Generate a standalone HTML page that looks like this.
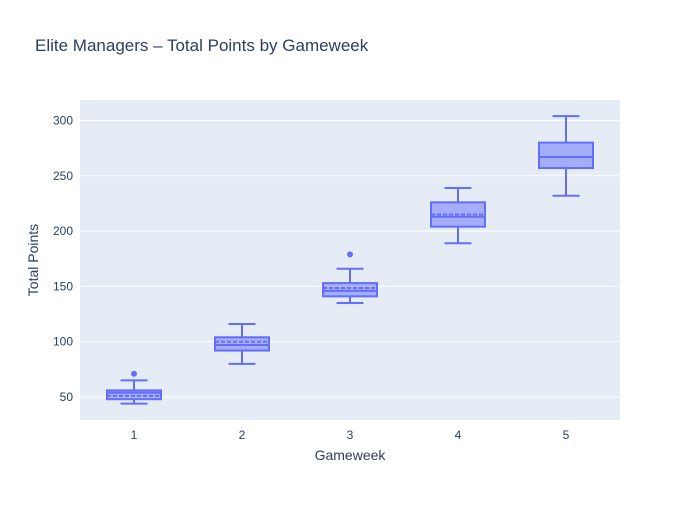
<!DOCTYPE html>
<html><head><meta charset="utf-8"><style>
body{margin:0;background:#fff;font-family:"Liberation Sans",Arial,sans-serif}
svg text{font-family:"Liberation Sans",Arial,sans-serif}
</style></head><body>
<svg id="c" width="700" height="500">
<rect x="0" y="0" width="700" height="500" fill="#fff"/>
<text x="35" y="51" font-size="17" fill="#2a3f5f">Elite Managers – Total Points by Gameweek</text>
<rect x="80" y="100" width="540" height="320" fill="#e5ecf6"/>
<g id="grid"></g><g id="marks"></g>
<text x="350" y="460" font-size="14" fill="#2a3f5f" text-anchor="middle">Gameweek</text>
<text transform="translate(38,260) rotate(-90)" font-size="14" fill="#2a3f5f" text-anchor="middle">Total Points</text>
</svg>
<script>
const categories=["1","2","3","4","5"];
const whiskerLow=[44,80,135,189,232];
const q1=[48,92,141,204,257];
const medians=[54,97,146,213,267];
const means=[51,100,148.5,215,267];
const q3=[56,104,153,226,280];
const whiskerHigh=[65,116,166,239,304];
const outliers=[[71],[],[179],[],[]];
const yTicks=[50,100,150,200,250,300];
const NS="http://www.w3.org/2000/svg";
const y=v=>397-(v-50)*1.106;
const x=i=>80+540*(i+0.5)/categories.length;
const bw=54;
function mk(t,a,p){const e=document.createElementNS(NS,t);for(const k in a)e.setAttribute(k,a[k]);p.appendChild(e);return e;}
const g=document.getElementById('grid'),m=document.getElementById('marks');
yTicks.forEach(v=>{
  const l=mk('line',{x1:80,x2:620,y1:y(v),y2:y(v),stroke:'#fff','stroke-width':1},g);
  
  
  const t=mk('text',{x:73,y:y(v)+4,'font-size':12,fill:'#2a3f5f','text-anchor':'end'},g);
  t.textContent=v;
  
  
});
categories.forEach((c,i)=>{
  const cx=x(i);
  const t=mk('text',{x:cx,y:439,'font-size':12,fill:'#2a3f5f','text-anchor':'middle'},g);
  t.textContent=c;
  
  
  const grp=mk('g',{},m);
  
  
  const s={stroke:'#636efa','stroke-width':2};
  mk('line',Object.assign({x1:cx,x2:cx,y1:y(whiskerHigh[i]),y2:y(q3[i])},s),grp);
  mk('line',Object.assign({x1:cx,x2:cx,y1:y(q1[i]),y2:y(whiskerLow[i])},s),grp);
  mk('line',Object.assign({x1:cx-13.5,x2:cx+13.5,y1:y(whiskerHigh[i]),y2:y(whiskerHigh[i])},s),grp);
  mk('line',Object.assign({x1:cx-13.5,x2:cx+13.5,y1:y(whiskerLow[i]),y2:y(whiskerLow[i])},s),grp);
  mk('rect',Object.assign({x:cx-bw/2,y:y(q3[i]),width:bw,height:y(q1[i])-y(q3[i]),fill:'rgba(99,110,250,0.5)'},s),grp);
  mk('line',Object.assign({x1:cx-bw/2,x2:cx+bw/2,y1:y(medians[i]),y2:y(medians[i])},s),grp);
  mk('line',Object.assign({x1:cx-bw/2,x2:cx+bw/2,y1:y(means[i]),y2:y(means[i]),'stroke-dasharray':'4,2'},s),grp);
  outliers[i].forEach(o=>{
    const d=mk('circle',{cx:cx,cy:y(o),r:3,fill:'#636efa'},grp);
    
    
  });
});
</script>
</body></html>
